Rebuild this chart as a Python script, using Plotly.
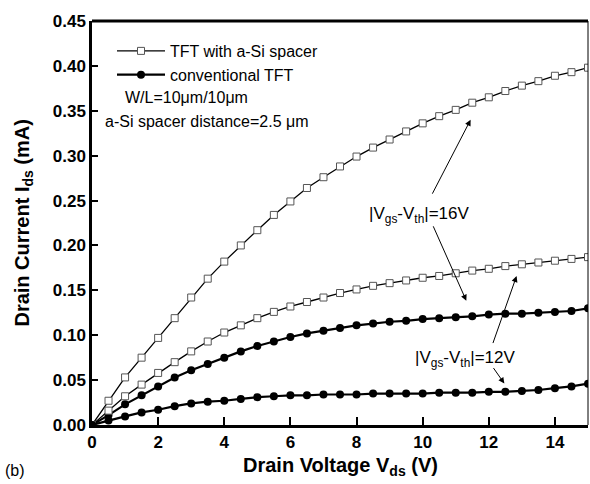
import plotly.graph_objects as go

# Drain voltage sweep (V)
vds = [i * 0.5 for i in range(31)]

# Drain current (mA), TFT with a-Si spacer
spacer_16v = [0, 0.027, 0.053, 0.075, 0.097, 0.119, 0.142, 0.163, 0.182, 0.200,
              0.217, 0.234, 0.249, 0.264, 0.276, 0.288, 0.299, 0.309, 0.318, 0.327,
              0.336, 0.344, 0.351, 0.359, 0.365, 0.372, 0.378, 0.383, 0.389, 0.393, 0.398]
spacer_12v = [0, 0.016, 0.032, 0.045, 0.058, 0.070, 0.082, 0.093, 0.103, 0.111,
              0.119, 0.126, 0.132, 0.137, 0.142, 0.147, 0.151, 0.155, 0.158, 0.161,
              0.164, 0.166, 0.169, 0.172, 0.174, 0.177, 0.179, 0.181, 0.183, 0.185, 0.187]

# Drain current (mA), conventional TFT
conv_16v = [0, 0.011, 0.023, 0.033, 0.043, 0.053, 0.061, 0.068, 0.075, 0.082,
            0.088, 0.093, 0.098, 0.102, 0.105, 0.108, 0.111, 0.113, 0.115, 0.116,
            0.118, 0.119, 0.120, 0.121, 0.123, 0.124, 0.124, 0.125, 0.126, 0.127, 0.130]
conv_12v = [0, 0.005, 0.0096, 0.014, 0.017, 0.021, 0.024, 0.026, 0.027, 0.029,
            0.031, 0.032, 0.033, 0.033, 0.034, 0.034, 0.034, 0.035, 0.035, 0.035,
            0.035, 0.036, 0.036, 0.036, 0.037, 0.037, 0.038, 0.039, 0.041, 0.043, 0.046]

x_ticks = [0, 2, 4, 6, 8, 10, 12, 14]
y_ticks = [0.00, 0.05, 0.10, 0.15, 0.20, 0.25, 0.30, 0.35, 0.40, 0.45]

FONT = "Arial, Liberation Sans, sans-serif"

sq_marker = dict(symbol="square", size=7, color="white",
                 line=dict(color="#555555", width=1))
dot_marker = dict(symbol="circle", size=8, color="black")

fig = go.Figure()
fig.add_trace(go.Scatter(x=vds, y=spacer_16v, mode="lines+markers",
                         name="TFT with a-Si spacer", legendgroup="a",
                         line=dict(color="black", width=1.3), marker=sq_marker))
fig.add_trace(go.Scatter(x=vds, y=conv_16v, mode="lines+markers",
                         name="conventional TFT", legendgroup="b",
                         line=dict(color="black", width=2.2), marker=dot_marker))
fig.add_trace(go.Scatter(x=vds, y=spacer_12v, mode="lines+markers",
                         showlegend=False, legendgroup="a",
                         line=dict(color="black", width=1.3), marker=sq_marker))
fig.add_trace(go.Scatter(x=vds, y=conv_12v, mode="lines+markers",
                         showlegend=False, legendgroup="b",
                         line=dict(color="black", width=2.2), marker=dot_marker))

annotations = []

# Gate-overdrive labels with pointer arrows
annotations.append(dict(x=9.89, y=0.234, xref="x", yref="y", showarrow=False,
                        text="|V<sub>gs</sub>-V<sub>th</sub>|=16V",
                        font=dict(family=FONT, size=17, color="black")))
annotations.append(dict(x=11.29, y=0.073, xref="x", yref="y", showarrow=False,
                        text="|V<sub>gs</sub>-V<sub>th</sub>|=12V",
                        font=dict(family=FONT, size=17, color="black")))
arrows = [
    ((11.45, 0.340), (10.27, 0.256)),
    ((11.32, 0.1385), (10.30, 0.223)),
    ((12.84, 0.166), (12.11, 0.0896)),
    ((12.47, 0.0462), (12.11, 0.0651)),
]
for (hx, hy), (tx, ty) in arrows:
    annotations.append(dict(x=hx, y=hy, ax=tx, ay=ty, xref="x", yref="y",
                            axref="x", ayref="y", text="", showarrow=True,
                            arrowhead=2, arrowsize=1.2, arrowwidth=1,
                            arrowcolor="black", standoff=0, startstandoff=0))

# Device description text
annotations.append(dict(x=123, y=98, xref="paper", yref="paper", showarrow=False,
                        text="W/L=10\u03bcm/10\u03bcm", xanchor="left", yanchor="middle",
                        font=dict(family=FONT, size=16, color="black")))
annotations.append(dict(x=103, y=122, xref="paper", yref="paper", showarrow=False,
                        text="a-Si spacer distance=2.5 \u03bcm", xanchor="left",
                        yanchor="middle", font=dict(family=FONT, size=16, color="black")))

# Axis titles and panel label
annotations.append(dict(x=0.5, y=-0.103, xref="paper", yref="paper", showarrow=False,
                        text="<b>Drain Voltage V<sub>ds</sub> (V)</b>",
                        xanchor="center", yanchor="middle",
                        font=dict(family=FONT, size=20, color="black")))
annotations.append(dict(x=-0.14, y=0.5, xref="paper", yref="paper", showarrow=False,
                        text="<b>Drain Current I<sub>ds</sub> (mA)</b>", textangle=-90,
                        xanchor="center", yanchor="middle",
                        font=dict(family=FONT, size=20, color="black")))
annotations.append(dict(x=-0.155, y=-0.112, xref="paper", yref="paper", showarrow=False,
                        text="(b)", xanchor="center", yanchor="middle",
                        font=dict(family=FONT, size=16, color="black")))

# Convert the pixel-placed description text to paper coordinates
L, R, T, B = 92, 2, 21, 58.5
W, H = 590, 484
pw, ph = W - L - R, H - T - B
for a in annotations[-5:-3]:
    a["x"] = (a["x"] - L) / pw
    a["y"] = (H - B - a["y"]) / ph

fig.update_layout(
    width=W, height=H,
    margin=dict(l=L, r=R, t=T, b=B),
    paper_bgcolor="white", plot_bgcolor="white",
    showlegend=True,
    legend=dict(x=(112 - L) / pw, y=(H - B - 34) / ph, xanchor="left", yanchor="top",
                bgcolor="rgba(0,0,0,0)", itemwidth=48, tracegroupgap=0,
                font=dict(family=FONT, size=16, color="black")),
    annotations=annotations,
    xaxis=dict(range=[0, 15], tickvals=x_ticks, ticktext=[str(v) for v in x_ticks],
               ticks="inside", ticklen=8, tickwidth=2, tickcolor="black",
               showline=True, linewidth=3, linecolor="black", mirror=False,
               showgrid=False, zeroline=False,
               tickfont=dict(family=FONT, size=17, color="black", weight="bold")),
    yaxis=dict(range=[0, 0.45], tickvals=y_ticks, ticktext=[f"{v:.2f}" for v in y_ticks],
               ticks="inside", ticklen=6, tickwidth=2, tickcolor="black",
               showline=True, linewidth=2.5, linecolor="black", mirror=False,
               showgrid=False, zeroline=False,
               tickfont=dict(family=FONT, size=17, color="black", weight="bold")),
    shapes=[
        dict(type="line", xref="paper", yref="paper", x0=0, x1=1, y0=1, y1=1,
             line=dict(color="black", width=3)),
        dict(type="line", xref="paper", yref="paper", x0=1, x1=1, y0=0, y1=1,
             line=dict(color="black", width=1)),
    ],
)

fig.write_html("out.html")
